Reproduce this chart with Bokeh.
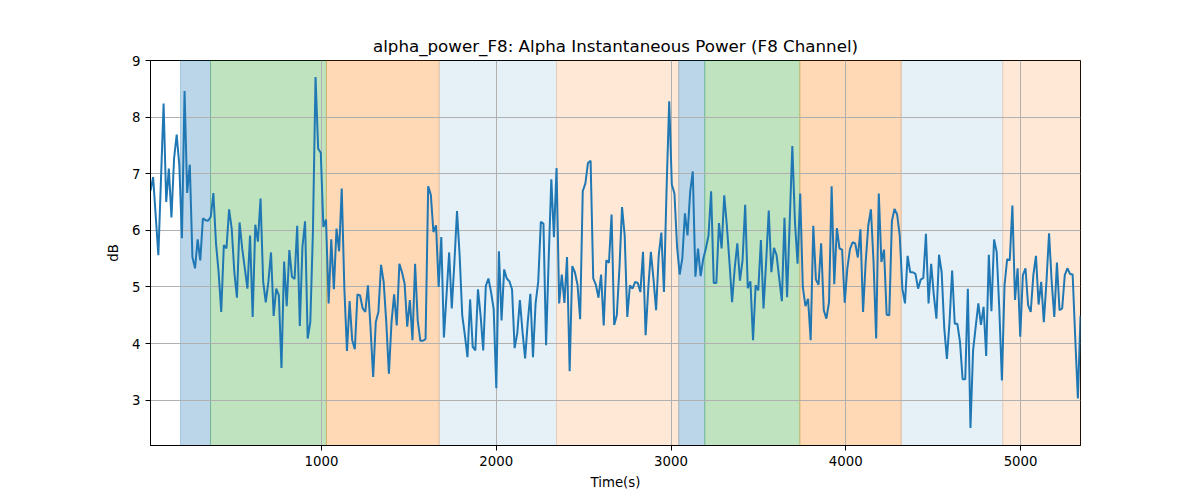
from bokeh.plotting import figure
from bokeh.models import Range1d, FixedTicker, ColumnDataSource
from bokeh.embed import file_html
from bokeh.resources import INLINE

# ---- data ----
t_start = 21.5
t_end = 5343.0

values = [
    6.7, 6.94, 6.25, 5.56, 6.9, 8.24, 6.5, 7.09, 6.23, 7.27, 7.69, 7.15, 5.86, 8.46, 6.66, 7.16, 5.53, 5.33, 5.84,
    5.47, 6.21, 6.18, 6.17, 6.24, 6.66, 5.77, 5.26, 4.56, 5.74, 5.68, 6.37, 6.03, 5.26, 4.81, 6.14,
    5.68, 5.33, 4.97, 5.91, 4.47, 6.10, 5.80, 6.56, 5.10, 4.73, 5.09, 5.61, 4.49,
    4.97, 4.85, 3.57, 5.45, 4.66, 5.65, 5.18, 5.14, 6.08, 4.31, 5.71, 6.16, 4.09, 4.38, 5.97, 8.71,
    7.44, 7.37, 6.06, 6.19, 4.71, 5.84, 4.96, 6.03, 5.63, 6.74, 4.97, 3.87, 4.75, 4.06, 3.90, 4.87,
    4.85, 4.62, 4.56, 5.03, 4.27, 3.41, 4.38, 4.56, 5.39, 5.09, 4.38, 3.47, 4.38, 4.87,
    4.32, 5.41, 5.26, 5.06, 4.30, 4.77, 4.06, 5.41, 4.41, 4.05, 4.05, 4.08, 6.78, 6.63, 5.97, 6.09,
    5.0, 5.88, 4.11, 4.86, 5.61, 4.62, 5.43, 6.34, 5.56, 4.50, 4.15, 3.76, 4.78, 3.94, 3.88, 4.96,
    4.50, 3.88, 5.02, 5.15, 4.91, 4.61, 3.21, 5.63, 4.41, 5.31, 5.15, 5.10, 4.96, 3.92,
    4.18, 4.77, 4.21, 3.74, 4.38, 4.88, 3.76, 4.71, 5.09, 6.15, 6.12, 3.97, 5.5, 6.90, 5.88, 7.10,
    4.71, 5.22, 4.72, 5.53, 3.51, 5.37, 5.26, 5.04, 4.43, 6.69, 6.83, 7.19, 7.23, 5.15, 5.04, 4.81,
    5.22, 4.32, 5.47, 5.43, 6.28, 4.33, 4.50, 5.33, 6.41, 5.91, 4.47, 5.03, 4.97, 5.09,
    5.07, 4.91, 5.62, 4.15, 4.97, 5.62, 5.14, 4.59, 5.56, 5.96, 4.91, 6.74, 8.28, 6.81, 6.65, 5.71,
    5.22, 5.50, 6.30, 5.91, 6.68, 7.04, 5.18, 5.68, 5.19, 5.50, 5.68, 5.91, 6.69, 5.07, 5.07, 6.13,
    5.68, 6.62, 6.09, 5.44, 4.73, 5.33, 5.77, 5.11, 5.47, 6.45, 4.98, 5.10, 4.06, 5.03,
    4.94, 5.83, 4.62, 5.44, 6.35, 5.26, 5.69, 5.56, 5.15, 4.75, 6.22, 4.82, 6.15, 7.49, 6.15, 5.41,
    6.65, 5.00, 4.66, 4.79, 4.06, 6.08, 5.13, 5.04, 5.77, 4.59, 4.44, 4.73, 6.78, 5.05, 6.04, 5.68,
    5.66, 4.72, 5.33, 5.67, 5.79, 5.77, 5.52, 6.02, 4.56, 5.44, 6.09, 6.37, 5.44, 4.09,
    6.65, 5.44, 5.66, 4.51, 4.50, 6.16, 6.38, 6.28, 5.91, 4.97, 4.71, 5.55, 5.26, 5.26, 5.23, 4.97,
    5.13, 5.16, 5.94, 4.71, 5.41, 4.86, 4.44, 5.57, 5.26, 4.27, 3.73, 4.38, 5.29, 4.35, 4.35, 4.03,
    3.37, 3.37, 4.97, 2.51, 3.88, 4.30, 4.71, 4.33, 4.65, 3.78, 5.57, 4.57, 5.84,
    5.62, 4.62, 3.35, 5.03, 5.49, 5.47, 6.44, 4.77, 5.33, 4.12, 5.21, 5.33, 4.68, 4.56, 5.21, 5.55,
    4.69, 5.09, 4.38, 5.09, 5.95, 5.09, 4.47, 5.43, 4.59, 4.62, 5.21, 5.33, 5.23, 5.22, 4.09, 3.03,
    4.49,
]
n = len(values)
step = (t_end - t_start) / (n - 1)
times = [t_start + i * step for i in range(n)]

band_starts = [193, 365, 1028, 1673, 2345, 3044, 3193, 3737, 4317, 4898]
band_ends = [365, 1028, 1673, 2345, 3044, 3193, 3737, 4317, 4898, 5343]
band_colors = ["#1f77b4", "#2ca02c", "#ff7f0e", "#1f77b4", "#ff7f0e",
               "#1f77b4", "#2ca02c", "#ff7f0e", "#1f77b4", "#ff7f0e"]
band_alphas = [0.3, 0.3, 0.3, 0.11, 0.17, 0.3, 0.3, 0.3, 0.11, 0.17]

x_ticks = [1000, 2000, 3000, 4000, 5000]
y_ticks = [3, 4, 5, 6, 7, 8, 9]

FONT = "DejaVu Sans"

p = figure(width=1192, height=492, output_backend="svg", toolbar_location=None,
           x_range=Range1d(t_start, t_end), y_range=Range1d(2.2, 9.0),
           title="alpha_power_F8: Alpha Instantaneous Power (F8 Channel)",
           min_border_left=150, min_border_right=112, min_border_top=60, min_border_bottom=47)

bands = ColumnDataSource(dict(left=band_starts, right=band_ends, color=band_colors, alpha=band_alphas))
p.quad(left="left", right="right", bottom=-100, top=100, source=bands,
       fill_color="color", fill_alpha="alpha", line_color="color", line_alpha="alpha",
       line_width=1, level="image")

p.line(times, values, line_color="#1f77b4", line_width=2)

p.title.align = "center"
p.title.text_font = FONT
p.title.text_font_style = "normal"
p.title.text_font_size = "16.7px"
p.title.text_color = "black"

p.xaxis.axis_label = "Time(s)"
p.yaxis.axis_label = "dB"
p.xaxis.ticker = FixedTicker(ticks=x_ticks)
p.yaxis.ticker = FixedTicker(ticks=y_ticks)
for ax in (p.xaxis, p.yaxis):
    ax.axis_label_text_font = FONT
    ax.axis_label_text_font_size = "13.3px"
    ax.axis_label_text_font_style = "normal"
    ax.axis_label_text_color = "black"
    ax.major_label_text_font = FONT
    ax.major_label_text_font_size = "13.3px"
    ax.major_label_text_color = "black"
    ax.axis_line_color = "black"
    ax.major_tick_line_color = "black"
    ax.major_tick_out = 5
    ax.major_tick_in = 0
    ax.minor_tick_line_color = None
p.xaxis.axis_label_standoff = 6
p.yaxis.axis_label_standoff = 8

p.grid.grid_line_color = "#b0b0b0"
p.grid.grid_line_width = 1
p.outline_line_color = "black"
p.outline_line_width = 1
p.background_fill_color = "white"
p.border_fill_color = "white"

open("out.html", "w").write(file_html(p, INLINE))
